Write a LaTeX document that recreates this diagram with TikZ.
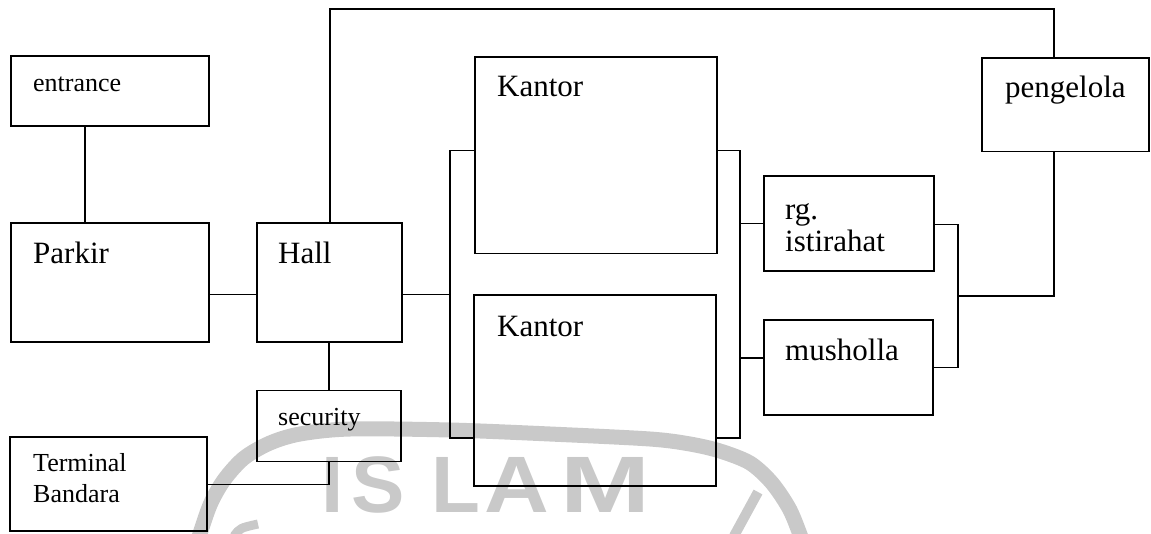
\documentclass[tikz,border=0pt]{standalone}
\usepackage{fontspec}
\setmainfont{Liberation Serif}
\newfontfamily\marksans{Liberation Sans}
\usetikzlibrary{fit}

\tikzset{
  room/.style={draw, line width=1.5pt, inner sep=0pt},
  link/.style={draw, line width=1.5pt},
  smalltext/.style={font=\fontsize{26}{30}\selectfont, anchor=base west, inner sep=0pt},
  largetext/.style={font=\fontsize{31}{36}\selectfont, anchor=base west, inner sep=0pt},
  wmline/.style={draw=black!21, line width=15pt},
  wmletter/.style={text=black!21, font=\marksans\bfseries\fontsize{80}{80}\selectfont, anchor=base, inner sep=0pt},
}

\begin{document}
\begin{tikzpicture}[x=1pt, y=-1pt]
\useasboundingbox (0,0) rectangle (1151,533);

% faint emblem behind the plan
\draw[wmline] plot[smooth] coordinates {(198,540) (210,505) (224,480) (244,458) (270,443) (300,434) (350,429) (450,430) (550,434) (650,439) (690,444) (720,451) (750,463) (772,483) (790,510) (802,540)};
\draw[wmline, line width=10pt] (758,492) -- (734,536);
\draw[wmline, line width=9pt] (234,536) .. controls (240,528) .. (258,524);
\node[wmletter] (wmI) at (332.5,512) {I};
\node[wmletter] (wmS) at (378.5,512) {S};
\node[wmletter] (wmL) at (456,512) {L};
\node[wmletter] (wmA) at (516.5,512) {\scalebox{1.12}[1]{A}};
\node[wmletter] (wmM) at (605,512) {\scalebox{1.35}[1]{M}};

% rooms
\node[room, fit={(11,56) (209,126)}] (entrance) {};
\node[room, fit={(11,223) (209,342)}] (parkir) {};
\node[room, fit={(257,223) (402,342)}] (hall) {};
\node[room, fit={(257,390.5) (401,461.6)}] (security) {};
\node[room, fit={(10,437) (207,531)}] (terminal) {};
\node[room, fit={(475,57) (717,253.4)}] (kantorA) {};
\node[room, fit={(474,295) (716,486)}] (kantorB) {};
\node[room, fit={(764,176) (934,271)}] (istirahat) {};
\node[room, fit={(764,320) (933,415)}] (musholla) {};
\node[room, fit={(982,58) (1149,151.4)}] (pengelola) {};

% labels
\node[smalltext] (entrance-t) at (33,91) {entrance};
\node[largetext] (parkir-t) at (33,263.6) {Parkir};
\node[largetext] (hall-t) at (278,263.6) {Hall};
\node[smalltext] (security-t) at (278,425) {security};
\node[smalltext] (terminal-t1) at (33,471) {Terminal};
\node[smalltext] (terminal-t2) at (33,502.7) {Bandara};
\node[largetext] (kantorA-t) at (497,96.3) {Kantor};
\node[largetext] (kantorB-t) at (497,336) {Kantor};
\node[largetext] (istirahat-t1) at (785,219.4) {rg.};
\node[largetext] (istirahat-t2) at (785,251.7) {istirahat};
\node[largetext] (musholla-t) at (785,360) {musholla};
\node[largetext] (pengelola-t) at (1005,97) {pengelola};

% routing levels
\coordinate (xEP) at (85,0);
\coordinate (xHT) at (330,0);
\coordinate (xHS) at (329,0);
\coordinate (xLB) at (450,0);
\coordinate (xRB) at (740,0);
\coordinate (xJ) at (958,0);
\coordinate (xPG) at (1054,0);
\coordinate (yTop) at (0,9);
\coordinate (yPH) at (0,294.5);
\coordinate (yTS) at (0,484.7);
\coordinate (yKT) at (0,150.7);
\coordinate (yKB) at (0,438);
\coordinate (yR1) at (0,223.5);
\coordinate (yM1) at (0,357.8);
\coordinate (yR2) at (0,224.5);
\coordinate (yM2) at (0,367.3);
\coordinate (yPJ) at (0,296);

% connectors
\draw[link] (entrance.south -| xEP) -- (parkir.north -| xEP);
\draw[link] (parkir.east |- yPH) -- (hall.west |- yPH);
\draw[link] (hall.north -| xHT) -- (xHT |- yTop) -- (xPG |- yTop) -- (pengelola.north -| xPG);
\draw[link] (hall.south -| xHS) -- (security.north -| xHS);
\draw[link] (terminal.east |- yTS) -| (security.south -| xHS);
\draw[link] (hall.east |- yPH) -- (xLB |- yPH);
\draw[link] (kantorA.west |- yKT) -- (xLB |- yKT) -- (xLB |- yKB) -- (kantorB.west |- yKB);
\draw[link] (kantorA.east |- yKT) -- (xRB |- yKT) -- (xRB |- yKB) -- (kantorB.east |- yKB);
\draw[link] (xRB |- yR1) -- (istirahat.west |- yR1);
\draw[link] (xRB |- yM1) -- (musholla.west |- yM1);
\draw[link] (istirahat.east |- yR2) -- (xJ |- yR2) -- (xJ |- yM2) -- (musholla.east |- yM2);
\draw[link] (pengelola.south -| xPG) -- (xPG |- yPJ) -- (xJ |- yPJ);
\end{tikzpicture}
\end{document}
